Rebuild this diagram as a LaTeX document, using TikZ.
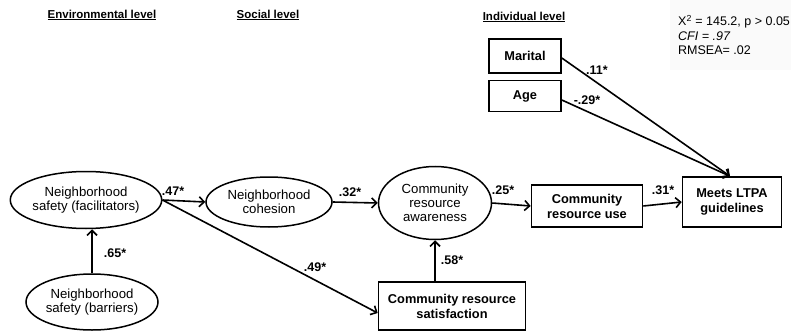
\documentclass[tikz,border=0pt]{standalone}
\usepackage{fontspec}
\setmainfont{Liberation Sans}
\usepackage{tikz}
\usetikzlibrary{arrows.meta,shapes}

\begin{document}
\begin{tikzpicture}[x=1pt,y=-1pt]
		\tikzstyle{latent}=[ellipse,line width=1.5pt,draw=black,inner sep=0pt,align=center,font=\fontsize{13.2}{14}\selectfont]
		\tikzstyle{observed}=[rectangle,line width=1.6pt,draw=black,inner sep=0pt,align=center,font=\fontsize{12.8}{15}\selectfont\bfseries]
		\tikzstyle{path_coef}=[font=\fontsize{12.5}{12}\selectfont\bfseries]
		\tikzstyle{level_text}=[font=\fontsize{11.5}{12}\selectfont\bfseries]
		\tikzstyle{fit_text}=[fill=black!2,inner xsep=8pt,inner ysep=15pt,align=left,anchor=north west,font=\fontsize{12.5}{14.5}\selectfont]
		\tikzstyle{effect}=[line width=1.6pt,-{Straight Barb[length=5pt,width=10pt]}]

		\useasboundingbox (0,0) rectangle (791,331);

		% levels
		\node [level_text] (env_level) at (102,15) {\underline{Environmental level}};
		\node [level_text] (soc_level) at (268,15) {\underline{Social level}};
		\node [level_text] (ind_level) at (524,17) {\underline{Individual level}};

		\node [fit_text] (model_fit) at (670,0) {X\textsuperscript{2} = 145.2, p > 0.05\\\textit{CFI = .97}\\RMSEA= .02};

		% environmental and social
		\node [latent,minimum width=148pt,minimum height=57pt] (safety_fac) at (86,200) {Neighborhood\\safety (facilitators)};
		\node [latent,minimum width=132pt,minimum height=56pt] (safety_bar) at (92,302) {Neighborhood\\safety (barriers)};
		\node [latent,minimum width=126pt,minimum height=50pt] (cohesion) at (269,202) {Neighborhood\\cohesion};
		\node [latent,minimum width=113pt,minimum height=73pt] (awareness) at (435,203) {Community\\resource\\awareness};

		% individual
		\node [observed,minimum width=72pt,minimum height=34pt] (marital) at (525,56) {Marital};
		\node [observed,minimum width=72pt,minimum height=31pt] (age) at (525,96) {Age};
		\node [observed,minimum width=111pt,minimum height=42pt] (res_use) at (587,206) {Community\\resource use};
		\node [observed,minimum width=99pt,minimum height=50pt] (ltpa) at (732,202) {Meets LTPA\\guidelines};
		\node [observed,minimum width=147pt,minimum height=48pt] (satisfaction) at (452,306) {Community resource\\satisfaction};

		% paths
		\draw [effect] (safety_bar.north) -- (safety_bar.north |- safety_fac.south);
		\draw [effect] (safety_fac.east) -- (cohesion.west);
		\draw [effect] (safety_fac.east) -- ([yshift=-7pt]satisfaction.west);
		\draw [effect] (cohesion.east) -- (awareness.west);
		\draw [effect] (awareness.south |- satisfaction.north) -- (awareness.south);
		\draw [effect] (awareness.east) -- (res_use.west);
		\draw [effect] (res_use.east) -- (ltpa.west);
		\draw [effect] ([yshift=-2pt]marital.east) -- ([xshift=-2pt]ltpa.north);
		\draw [effect] ([yshift=-4pt]age.east) -- ([xshift=-2pt]ltpa.north);

		\node [path_coef] (c_bar) at (115,253) {.65*};
		\node [path_coef] (c_coh) at (173,191) {.47*};
		\node [path_coef] (c_sat) at (315,267) {.49*};
		\node [path_coef] (c_awa) at (350,192) {.32*};
		\node [path_coef] (c_res) at (452,260) {.58*};
		\node [path_coef] (c_use) at (503,190) {.25*};
		\node [path_coef] (c_ltpa) at (663,190) {.31*};
		\node [path_coef] (c_mar) at (597,70) {.11*};
		\node [path_coef] (c_age) at (587,100) {-.29*};

	\end{tikzpicture}
\end{document}
